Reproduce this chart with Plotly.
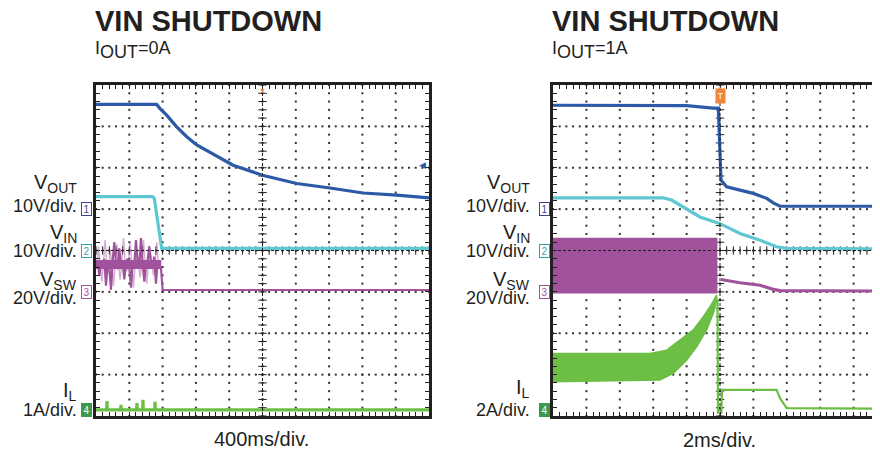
import plotly.graph_objects as go

# ---------------- channel settings ----------------
ch_names = ["VOUT", "VIN", "VSW", "IL"]
ch_ground_div = [5.0, 4.0, 3.0, 0.15]          # ground marker position (divisions from bottom)
left_scale = [10, 10, 20, 1]                    # units per division, IOUT=0A capture
right_scale = [10, 10, 20, 2]                   # units per division, IOUT=1A capture
label_titles = ["V<sub>OUT</sub>", "V<sub>IN</sub>", "V<sub>SW</sub>", "I<sub>L</sub>"]
left_scale_labels = ["10V/div.", "10V/div.", "20V/div.", "1A/div."]
right_scale_labels = ["10V/div.", "10V/div.", "20V/div.", "2A/div."]
marker_text = ["1", "2", "3", "4"]

left_time_div = 400   # ms/div
right_time_div = 2    # ms/div

# ---------------- left capture data (IOUT = 0A), time in ms from trigger ----------------
l_ch1_t = [-2000, -1271, -1231, -1151, -1031, -910, -790, -670, -550, -354, 0, 411, 811, 1207, 1612, 1972, 2000]
l_ch1_v = [25.3, 25.3, 24.3, 22.7, 19.9, 17.5, 15.5, 14.1, 12.8, 10.6, 8.2, 6.2, 5.1, 3.9, 3.4, 2.8, 2.7]

l_ch2_t = [-2000, -1320, -1300, -1211, 2000]
l_ch2_v = [13.0, 13.0, 12.6, 0.5, 0.5]

l_ch3_t = [-2000, -1980, -1960, -1940, -1920, -1900, -1880, -1860, -1840, -1820,
           -1800, -1780, -1760, -1740, -1720, -1700, -1680, -1660, -1640, -1620,
           -1600, -1580, -1560, -1540, -1520, -1500, -1480, -1460, -1440, -1420,
           -1400, -1380, -1360, -1340, -1320, -1300, -1280, -1260, -1240, -1220,
           -1200, 2000]
l_ch3_v = [14, 15, 8, 14, 13, 16, 3, 14, 12, 1,
           15, 24, 14, 11, 21, 13, 15, 6, 14, 16,
           12, 2, 14, 13, 25, 15, 12, 26, 14, 5,
           13, 15, 22, 14, 12, 17, 4, 14, 13, 12,
           0.9, 0.9]
l_ch3_spike_t = [-1990, -1970, -1950, -1930, -1910, -1890, -1870, -1850, -1830, -1810,
                 -1790, -1770, -1750, -1730, -1710, -1690, -1670, -1650, -1630, -1610,
                 -1590, -1570, -1550, -1530, -1510, -1490, -1470, -1450, -1430, -1410,
                 -1390, -1370, -1350, -1330, -1310, -1290, -1270, -1250, -1230]
l_ch3_spike_v = [14, 22, 13, 5, 14, 25, 14, 9, 20, 14,
                 3, 14, 23, 14, 6, 14, 26, 14, 10, 14,
                 24, 14, 2, 14, 18, 14, 7, 14, 25, 14,
                 4, 14, 20, 14, 8, 14, 24, 14, 12]
l_ch3_band_t = [-2000, -1225]
l_ch3_band_hi = [15.0, 15.0]
l_ch3_band_lo = [11.4, 11.4]

l_ch4_t = [-2000, -1872, -1868, -1864, -1704, -1700, -1696, -1512, -1508, -1504,
           -1440, -1436, -1432, -1295, -1291, -1287, 2000]
l_ch4_v = [0, 0, 0.21, 0, 0, 0.12, 0, 0, 0.16, 0,
           0, 0.24, 0, 0, 0.19, 0, 0]

# ---------------- right capture data (IOUT = 1A), time in ms from trigger ----------------
r_ch1_t = [-10, -2.0, -0.42, -0.1, 0.06, 0.40, 1.20, 1.99, 2.80, 3.19, 3.59, 9.58]
r_ch1_v = [25.1, 25.0, 24.4, 24.4, 7.0, 5.4, 4.6, 3.8, 2.6, 1.5, 0.7, 0.7]

r_ch2_t = [-10, -3.39, -2.9, -2.40, -1.20, 0, 1.20, 2.40, 3.39, 3.99, 9.58]
r_ch2_v = [12.7, 12.7, 12.2, 11.0, 8.1, 6.5, 4.1, 2.5, 0.9, 0.5, 0.4]

r_ch3_band_t = [-10, -0.2]
r_ch3_band_hi = [25.8, 25.8]
r_ch3_band_lo = [-0.4, -0.4]
r_ch3_t = [0.06, 1.20, 2.40, 3.19, 3.59, 9.58]
r_ch3_v = [6.0, 4.4, 3.2, 1.2, 0.6, 0.4]

r_ch4_band_hi_t = [-10, -4.19, -3.19, -2.40, -1.60, -1.0, -0.6, -0.2]
r_ch4_band_hi = [2.72, 2.72, 2.88, 3.38, 3.86, 4.5, 4.98, 5.54]
r_ch4_band_lo_t = [-10, -3.6, -2.80, -2.0, -1.4, -0.8, -0.4, -0.2]
r_ch4_band_lo = [1.36, 1.44, 1.76, 2.4, 3.04, 3.86, 4.66, 5.3]
r_ch4_t = [-0.15, -0.12, 0.08, 0.12, 3.39, 3.6, 3.99, 9.58]
r_ch4_v = [5.3, -0.14, -0.14, 0.96, 0.96, 0.55, 0.08, 0.05]

# ---------------- styling ----------------
OFF = 8                      # page body margin of the html page
W, H = 880 - OFF, 456 - 2 * OFF
FONT = "Liberation Sans, Arial, Helvetica, sans-serif"
INK = "#231f20"
COLORS = ["#2c5aa6", "#5fc7d1", "#a0529d", "#6cbf44"]
MARK_BORDER = ["#3b4494", "#2fa3a3", "#a0529d", "#3c9a4b"]
ORANGE = "#f0843c"
N_X, N_Y = 10, 8
TRACE_W = 3.2


def px_x(p):
    return (p - OFF) / W


def px_y(p):
    return 1 - (p - OFF) / H


dom_y = [px_y(416), px_y(85)]
dom_xl = [px_x(96), px_x(429)]
dom_xr = [px_x(553), 1.0]
left_range = [-N_X / 2 * left_time_div, N_X / 2 * left_time_div]
right_range = [-N_X / 2 * right_time_div, (880 - 720) / 167 * N_X / 2 * right_time_div]

fig = go.Figure()

# ---------------- graticule (dotted grid + centre cross ticks) ----------------
for xa, ya, div in [("x", "y", left_time_div), ("x2", "y6", right_time_div)]:
    gx, gy = [], []
    for i in range(-N_X // 2 + 1, N_X // 2):
        for k in range(0, 5 * N_Y + 1):
            gx.append(i * div)
            gy.append(k / 5)
    for j in range(1, N_Y):
        for k in range(-5 * N_X // 2, 5 * N_X // 2 + 1):
            gx.append(k * div / 5)
            gy.append(j)
    fig.add_trace(go.Scatter(x=gx, y=gy, xaxis=xa, yaxis=ya, mode="markers",
                             marker=dict(symbol="square", size=2, color="#303030", line=dict(width=0)),
                             hoverinfo="skip", showlegend=False, cliponaxis=True))
    hx = [k * div / 5 for k in range(-5 * N_X // 2, 5 * N_X // 2 + 1)]
    vy = [k / 5 for k in range(0, 5 * N_Y + 1)]
    fig.add_trace(go.Scatter(x=hx, y=[N_Y / 2] * len(hx), xaxis=xa, yaxis=ya, mode="markers",
                             marker=dict(symbol="line-ns", size=6, line=dict(width=1, color=INK)),
                             hoverinfo="skip", showlegend=False, cliponaxis=True))
    fig.add_trace(go.Scatter(x=[0] * len(vy), y=vy, xaxis=xa, yaxis=ya, mode="markers",
                             marker=dict(symbol="line-ew", size=6, line=dict(width=1, color=INK)),
                             hoverinfo="skip", showlegend=False, cliponaxis=True))


def add_line(t, v, xa, ya, color, width=TRACE_W, opacity=1.0):
    fig.add_trace(go.Scatter(x=t, y=v, xaxis=xa, yaxis=ya, mode="lines",
                             line=dict(color=color, width=width), opacity=opacity,
                             hoverinfo="skip", showlegend=False))


def add_band(t_hi, hi, t_lo, lo, xa, ya, color):
    fig.add_trace(go.Scatter(x=list(t_hi) + list(t_lo)[::-1], y=list(hi) + list(lo)[::-1],
                             xaxis=xa, yaxis=ya, mode="lines", fill="toself", fillcolor=color,
                             line=dict(color=color, width=1.5), hoverinfo="skip", showlegend=False))


# left traces (channel axes y2..y5)
add_line(l_ch1_t, l_ch1_v, "x", "y2", COLORS[0])
add_line(l_ch2_t, l_ch2_v, "x", "y3", COLORS[1])
add_line(l_ch3_spike_t, l_ch3_spike_v, "x", "y4", COLORS[2], width=1.5, opacity=0.45)
add_band(l_ch3_band_t, l_ch3_band_hi, l_ch3_band_t, l_ch3_band_lo, "x", "y4", COLORS[2])
add_line(l_ch3_t, l_ch3_v, "x", "y4", COLORS[2], width=2.2)
add_line(l_ch4_t, l_ch4_v, "x", "y5", COLORS[3])

# right traces (channel axes y7..y10)
add_line(r_ch1_t, r_ch1_v, "x2", "y7", COLORS[0])
add_line(r_ch2_t, r_ch2_v, "x2", "y8", COLORS[1])
add_band(r_ch3_band_t, r_ch3_band_hi, r_ch3_band_t, r_ch3_band_lo, "x2", "y9", COLORS[2])
add_line(r_ch3_t, r_ch3_v, "x2", "y9", COLORS[2])
add_band(r_ch4_band_hi_t, r_ch4_band_hi, r_ch4_band_lo_t, r_ch4_band_lo, "x2", "y10", COLORS[3])
add_line(r_ch4_t, r_ch4_v, "x2", "y10", COLORS[3], width=2.2)


def frame_axis(domain, rng, dtick, mirror, anchor):
    return dict(domain=domain, range=rng, anchor=anchor, tick0=0, dtick=dtick,
                showgrid=False, zeroline=False, showline=True, linecolor=INK, linewidth=3, mirror=mirror,
                ticks="inside", ticklen=4, tickwidth=1, tickcolor=INK,
                minor=dict(tick0=0, dtick=dtick / 5, ticks="inside", ticklen=4, tickwidth=1,
                           tickcolor=INK, showgrid=False),
                showticklabels=False, fixedrange=True)


lay = dict(
    xaxis=frame_axis(dom_xl, left_range, left_time_div, "allticks", "y"),
    yaxis=frame_axis(dom_y, [0, N_Y], 1, "allticks", "x"),
    xaxis2=frame_axis(dom_xr, right_range, right_time_div, "allticks", "y6"),
    yaxis6=frame_axis(dom_y, [0, N_Y], 1, False, "x2"),
)
for i in range(4):
    g = ch_ground_div[i]
    s = left_scale[i]
    lay[f"yaxis{2 + i}"] = dict(overlaying="y", anchor="x", range=[-g * s, (N_Y - g) * s],
                                visible=False, fixedrange=True)
    s = right_scale[i]
    lay[f"yaxis{7 + i}"] = dict(overlaying="y6", anchor="x2", range=[-g * s, (N_Y - g) * s],
                                visible=False, fixedrange=True)

shapes = []
for xa, ya in [("x", "y"), ("x2", "y6")]:
    shapes.append(dict(type="line", xref=xa, yref=f"{ya} domain", x0=0, x1=0, y0=0, y1=1,
                       line=dict(color=INK, width=1, dash="3px,2px")))
    shapes.append(dict(type="line", xref=f"{xa} domain", yref=ya, x0=0, x1=1, y0=N_Y / 2, y1=N_Y / 2,
                       line=dict(color=INK, width=1, dash="3px,2px")))

annotations = []


def text(t, x, y, size, xanchor="right", yanchor="middle", bold=False, color=INK, **kw):
    annotations.append(dict(text=f"<b>{t}</b>" if bold else t, x=x, y=y, xref="paper", yref="paper",
                            xanchor=xanchor, yanchor=yanchor, showarrow=False,
                            font=dict(family=FONT, size=size, color=color), **kw))


# titles
for x0, sub in [(93, "0A"), (550, "1A")]:
    text("VIN SHUTDOWN", px_x(x0), px_y(21), 29, xanchor="left", bold=True)
    text(f"I<sub><span style='font-size:18px'>OUT</span></sub>={sub}", px_x(x0), px_y(50), 18, xanchor="left")

# channel labels
lab_y = [183, 233, 280, 391]
scale_y = [206, 251, 297.5, 410]
for panel, (xr, labels) in enumerate([(79, left_scale_labels), (532, right_scale_labels)]):
    for i in range(4):
        text(label_titles[i], px_x(xr), px_y(lab_y[i] - (3 if (panel == 1 and i == 3) else 0)), 20)
        text(labels[i], px_x(xr), px_y(scale_y[i]), 18)

# ground markers placed at 0 on each channel axis
for xr, ybase in [(92, 2), (550, 7)]:
    for i in range(4):
        filled = i == 3
        annotations.append(dict(text=marker_text[i], x=px_x(xr), y=0, xref="paper", yref=f"y{ybase + i}",
                                xanchor="right", yanchor="middle", showarrow=False,
                                font=dict(family=FONT, size=10, color="white" if filled else MARK_BORDER[i]),
                                bgcolor=MARK_BORDER[i] if filled else "white",
                                bordercolor=MARK_BORDER[i], borderwidth=1, borderpad=0, width=9, height=12))

# time/div labels
text(f"{left_time_div}ms/div.", px_x(262), px_y(439), 20, xanchor="center")
text(f"{right_time_div}ms/div.", px_x(719), px_y(440), 20, xanchor="center")

# trigger markers
annotations.append(dict(text="▼", x=0, y=1, xref="x", yref="y domain", xanchor="center", yanchor="top",
                        showarrow=False, font=dict(size=7, color=ORANGE)))
annotations.append(dict(text="▼", x=0, y=1, xref="x2", yref="y6 domain", xanchor="center", yanchor="top",
                        showarrow=False, font=dict(size=6, color=ORANGE), borderpad=0))
annotations.append(dict(text="T", x=0, y=px_y(96), xref="x2", yref="paper", xanchor="center", yanchor="middle",
                        showarrow=False, font=dict(family=FONT, size=9, color="white"),
                        bgcolor=ORANGE, borderpad=1, width=7, height=12))
# ch1 reference arrow at right edge of left capture
annotations.append(dict(text="◀", x=px_x(428), y=px_y(165), xref="paper", yref="paper", xanchor="right",
                        yanchor="middle", showarrow=False, font=dict(size=9, color=COLORS[0])))

fig.update_layout(width=W, height=H, margin=dict(l=0, r=0, t=0, b=0),
                  paper_bgcolor="white", plot_bgcolor="white", showlegend=False,
                  shapes=shapes, annotations=annotations, font=dict(family=FONT, color=INK), **lay)

fig.write_html("out.html")
